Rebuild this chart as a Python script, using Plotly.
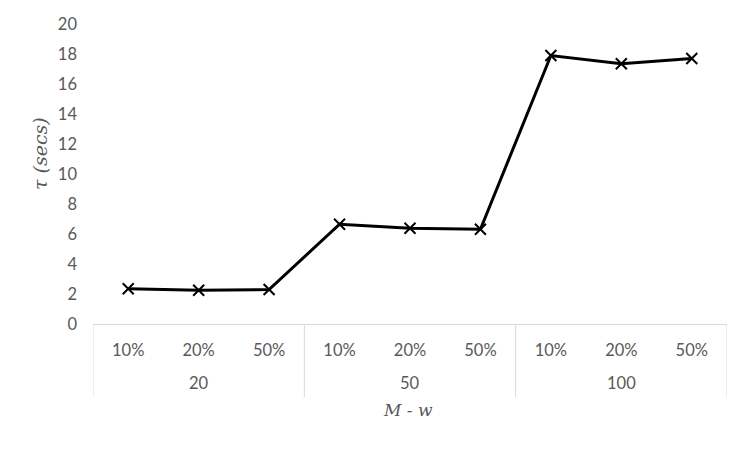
import plotly.graph_objects as go

groups = ["20", "20", "20", "50", "50", "50", "100", "100", "100"]
subcats = ["10%", "20%", "50%", "10%", "20%", "50%", "10%", "20%", "50%"]
tau = [2.35, 2.25, 2.3, 6.65, 6.38, 6.32, 17.9, 17.35, 17.7]
y_ticks = list(range(0, 21, 2))
group_names = ["20", "50", "100"]

keys = [f"{g}|{s}" for g, s in zip(groups, subcats)]

fig = go.Figure(go.Scatter(
    x=keys, y=tau, mode="lines+markers",
    line=dict(color="black", width=3),
    marker=dict(symbol="x-thin", size=11, line=dict(color="black", width=2)),
))

GRID = "#d9d9d9"
TXT = "#595959"
FS = 16.5

# page body has an 8px margin in the browser; compensate
L, T = 93 - 8, 24 - 8
R = 750 - (727 - 8)
B = 450 - (324 - 8)
PW = 727 - 93
PH = 300

shapes = []
bounds = [-0.5]
annotations = []
for gname in group_names:
    idx = [i for i, g in enumerate(groups) if g == gname]
    bounds.append(idx[-1] + 0.5)
    mid = keys[idx[len(idx) // 2]]
    annotations.append(dict(x=mid, xref="x", y=-(383 - 324) / PH, yref="paper", text=gname,
                            showarrow=False, yanchor="middle",
                            font=dict(family="Lato", size=FS, color=TXT)))
for b in bounds:
    shapes.append(dict(type="line", xref="x", yref="paper", x0=b, x1=b, y0=0, y1=-(397 - 324) / PH,
                       line=dict(color=GRID, width=1)))

annotations.append(dict(x=(408 - 93) / PW, xref="paper", y=-(410 - 324) / PH, yref="paper",
                        text="<i>M - w</i>", showarrow=False, yanchor="middle", xanchor="center",
                        font=dict(family="DejaVu Serif", size=17, color=TXT)))
annotations.append(dict(x=(40 - 93) / PW, xref="paper", y=(324 - 154) / PH, yref="paper",
                        text="<i>τ (secs)</i>", showarrow=False, textangle=-90,
                        yanchor="middle", xanchor="center",
                        font=dict(family="DejaVu Serif", size=19, color=TXT)))

fig.update_layout(
    width=750, height=450,
    margin=dict(l=L, r=R, t=T, b=B),
    paper_bgcolor="white", plot_bgcolor="white",
    showlegend=False,
    shapes=shapes, annotations=annotations,
    xaxis=dict(
        type="category", range=[-0.5, 8.5], automargin=False,
        showgrid=False, zeroline=False,
        showline=True, linecolor=GRID, linewidth=1,
        ticks="", tickvals=keys, ticktext=subcats, ticklabelstandoff=11,
        tickfont=dict(family="Lato", size=FS, color=TXT),
    ),
    yaxis=dict(
        range=[0, 20], tickvals=y_ticks, showgrid=False, zeroline=False,
        showline=False, ticks="", ticklabelstandoff=15, automargin=False,
        tickfont=dict(family="Lato", size=FS, color=TXT),
    ),
)

fig.write_html("out.html")
